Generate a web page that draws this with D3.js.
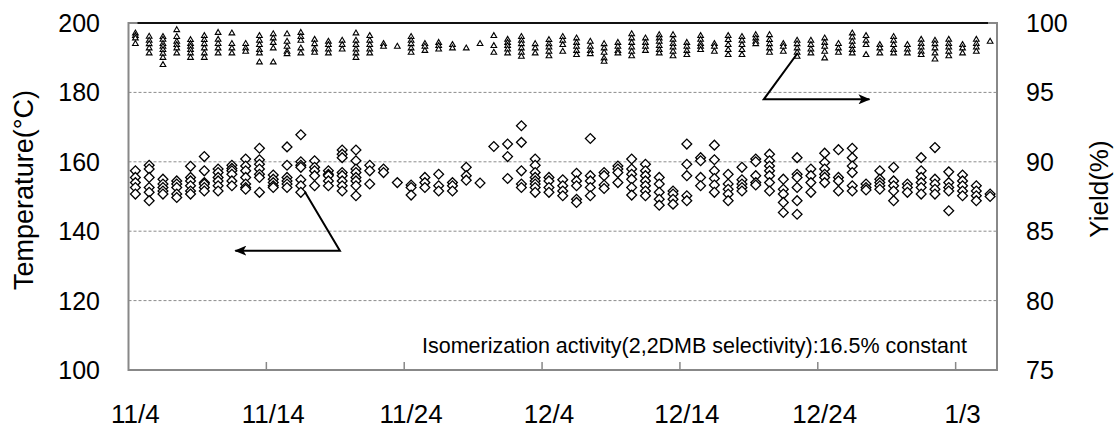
<!DOCTYPE html>
<html><head><meta charset="utf-8">
<script src="https://cdn.jsdelivr.net/npm/d3@7"></script>
<style>
html,body{margin:0;padding:0;background:#fff;}
svg{display:block;font-family:"Liberation Sans",Arial,sans-serif;}
</style></head>
<body>
<svg id="chart" width="1117" height="429"></svg>
<script>
// ---- data ----
const startDay = new Date(Date.UTC(2012, 10, 4));
const endDay = new Date(Date.UTC(2013, 0, 6));
const xTickLabels = ["11/4", "11/14", "11/24", "12/4", "12/14", "12/24", "1/3"];
const tempTicks = [100, 120, 140, 160, 180, 200];
const yieldTicks = [75, 80, 85, 90, 95, 100];
const leftTitle = "Temperature(\u00B0C)";
const rightTitle = "Yield(%)";
const noteText = "Isomerization activity(2,2DMB selectivity):16.5% constant";

// temperature (diamonds), one list per day
const temperature = [
[157.4,155.5,154.0,152.6,150.7],
[159.0,157.9,155.5,152.6,151.2,148.8],
[155.0,153.6,152.6,151.6,150.7],
[154.5,153.6,152.6,150.7,149.7],
[158.7,155.5,154.5,153.1,151.6,150.7],
[161.5,157.4,154.0,153.6,152.6,151.6],
[157.9,156.9,155.5,154.5,153.1,151.6],
[159.0,158.1,157.4,156.4,154.5,153.1],
[160.8,158.8,157.4,155.5,153.6,152.6,152.1],
[163.9,160.6,159.3,157.9,156.4,155.5,151.2],
[156.2,155.0,154.0,153.1,152.6],
[164.3,159.0,155.5,154.5,153.6,152.6],
[167.8,160.0,159.0,158.4,154.8,153.1,151.2],
[160.3,158.4,157.4,156.0,153.1],
[157.4,156.4,156.0,154.5,153.1],
[163.4,162.2,161.2,156.9,156.0,154.5,153.1,151.6],
[163.4,160.3,157.9,156.9,155.5,154.5,153.1,150.2],
[159.0,157.4,153.6],
[157.9,156.9],
[154.0],
[153.3,152.6,150.4],
[155.5,154.0,152.6],
[156.4,153.1,151.6],
[154.0,153.1,151.6],
[158.4,156.0,154.7],
[153.9],
[164.4],
[165.1,161.5,155.2],
[170.4,165.6,157.4,153.6,152.6],
[160.8,159.0,156.9,155.5,154.5,153.6,152.6,151.2],
[155.5,154.5,152.6,151.2],
[154.8,153.1,151.6,150.2],
[156.7,154.5,153.1,149.2,148.3],
[166.7,156.0,154.5,152.6,150.2],
[156.9,156.0,153.3,152.3],
[158.8,157.9,156.9,154.0],
[160.8,157.9,156.4,155.0,152.6,150.4],
[159.3,157.4,156.0,154.5,153.1,151.6,150.2],
[155.5,153.6,151.2,149.2,147.5],
[151.6,150.7,149.2,147.8],
[165.1,159.3,156.0,150.2,148.8],
[161.2,160.3,155.5,153.1],
[164.8,160.6,157.4,155.2,153.3,151.2],
[156.4,153.6,152.1,150.7,148.8],
[158.4,154.8,153.6,152.6,151.6],
[160.8,160.0,156.0,154.0,153.3],
[162.2,160.3,158.8,157.4,156.0,154.0,151.6],
[155.0,152.1,150.7,148.3,145.4],
[161.2,156.4,155.5,152.6,148.8,144.9],
[157.9,156.0,154.0,151.2],
[162.5,159.8,157.9,156.4,155.5,154.0],
[163.5,155.5,154.5,151.6],
[163.9,161.2,158.8,156.9,153.1,151.6],
[153.6,152.6,151.9],
[157.4,155.0,154.0,153.1,152.1],
[158.4,154.5,153.1,151.6,148.8],
[153.6,152.6,151.2],
[161.2,157.4,155.5,154.0,152.6,150.7],
[164.1,155.0,153.6,152.1,150.7],
[157.1,154.0,152.6,151.6,145.9],
[156.2,154.5,153.1,151.6,150.2],
[153.1,151.6,150.2,148.8],
[150.7,150.0]
];

// yield (triangles), one list per day
const yieldPct = [
[99.26,99.07,98.9,98.5],
[99.02,98.73,98.49,98.18,97.82],
[99.0,98.8,98.5,98.3,98.06,97.8,97.5,96.98],
[99.5,99.0,98.66,98.42,98.18,97.82],
[98.78,98.5,98.3,98.06,97.82,97.5],
[99.07,98.78,98.49,98.18,97.82,97.5],
[99.3,98.8,98.5,98.18,97.82],
[99.26,98.5,98.18,97.82],
[98.5,98.18,97.94],
[99.07,98.73,98.42,98.06,97.82,97.17],
[99.2,98.9,98.58,98.18,97.17],
[99.2,98.66,98.3,97.94,97.77],
[99.3,99.0,98.73,98.18,97.82],
[98.8,98.49,98.1,97.87],
[98.66,98.42,98.1,97.82],
[98.73,98.42,98.1],
[99.26,98.73,98.42,98.1,97.82,97.5],
[99.07,98.73,98.42,98.1,97.82],
[98.5,98.3],
[98.3],
[99.0,98.73,98.49,98.18,97.87],
[98.5,98.3,98.0],
[98.58,98.35,98.1],
[98.42,98.18],
[98.18],
[98.5],
[99.07,98.35,97.87],
[98.8,98.58,98.35,98.1,97.82],
[99.0,98.73,98.49,98.18,97.87,97.58],
[98.49,98.18,97.82],
[98.78,98.49,98.25,97.94,97.62],
[99.0,98.73,98.42,97.94],
[98.9,98.58,98.3,98.0,97.7],
[98.66,98.3,98.0,97.77],
[98.49,98.18,97.87,97.46,97.22],
[98.58,98.3,98.0,97.82],
[99.2,98.9,98.58,98.25,97.94,97.62],
[98.9,98.58,98.3,98.0],
[99.14,98.9,98.66,98.35,98.06,97.82],
[99.14,98.8,98.5,98.25,97.94,97.62],
[98.58,98.3,98.0,97.7],
[99.07,98.8,98.5,98.3,98.06],
[98.5,98.3,97.94],
[99.07,98.78,98.42,98.06,97.7],
[99.0,98.73,98.42,98.06,97.7],
[99.14,98.9,98.66,98.49],
[99.14,98.78,98.49,98.18,97.87],
[98.5,98.3,97.94],
[98.73,98.49,98.18,97.87,97.58],
[98.73,98.42,98.1,97.82],
[98.9,98.58,98.3,97.94,97.46],
[98.5,98.18,97.87],
[99.26,98.97,98.66,98.35,98.06,97.82],
[99.07,98.73,98.42,97.7],
[98.42,98.18,97.82],
[99.0,98.73,98.42,98.06,97.82],
[98.42,98.1,97.82],
[98.8,98.5,98.25,97.94,97.7],
[98.73,98.49,98.18,97.82,97.38],
[98.8,98.5,98.25,97.94,97.62],
[98.42,98.18,97.82],
[98.8,98.5,98.25,97.94],
[98.66]
];

// annotation arrows in data units: [day offset, value]
const tempArrow = [[12.8, 151.4], [15.36, 134.4], [7.75, 134.4]];
const yieldArrow = [[48.57, 97.84], [46.1, 94.5], [53.77, 94.5]];

// ---- drawing ----
const svg = d3.select("#chart");
const L = 128.5, R = 997, T = 23, B = 370;
const days = d3.utcDay.range(startDay, endDay);
const x = d3.scaleUtc().domain([startDay, endDay]).range([L, R]);
const yT = d3.scaleLinear().domain([100, 200]).range([B, T]);
const yY = d3.scaleLinear().domain([75, 100]).range([B, T]);
const mid = d => d3.utcHour.offset(d, 12);
const dayX = v => x(d3.utcHour.offset(startDay, v * 24));

// gridlines
svg.append("g").selectAll("line").data(tempTicks.filter(t => t > 100 && t < 200)).join("line")
  .attr("x1", L).attr("x2", R).attr("y1", d => yT(d)).attr("y2", d => yT(d))
  .attr("stroke", "#8c8c8c").attr("stroke-width", 1).attr("stroke-dasharray", "3,2");

// frame
svg.append("line").attr("x1", L + 8).attr("x2", R - 8).attr("y1", T).attr("y2", T)
  .attr("stroke", "#111").attr("stroke-width", 2);
svg.append("path").attr("d", `M${R - 9},${T}H${R}V${B}H${L}V${T}H${L + 9}`)
  .attr("fill", "none").attr("stroke", "#888").attr("stroke-width", 2);

// x ticks (inside)
const tickDays = days.filter((d, i) => i % 10 === 0);
svg.append("g").selectAll("line").data(tickDays.slice(1)).join("line")
  .attr("x1", d => x(d)).attr("x2", d => x(d)).attr("y1", B - 8).attr("y2", B)
  .attr("stroke", "#888").attr("stroke-width", 1.5);

// x labels (centered on the day)
svg.append("g").selectAll("text").data(tickDays).join("text")
  .attr("x", d => x(mid(d))).attr("y", 423).attr("text-anchor", "middle")
  .attr("font-size", 26).attr("fill", "#000")
  .text((d, i) => xTickLabels[i]);

// left y labels
svg.append("g").selectAll("text").data(tempTicks).join("text")
  .attr("x", 100).attr("y", d => yT(d)).attr("dy", "0.36em").attr("text-anchor", "end")
  .attr("font-size", 25).text(d => d);
// right y labels
svg.append("g").selectAll("text").data(yieldTicks).join("text")
  .attr("x", 1026).attr("y", d => yY(d)).attr("dy", "0.36em").attr("text-anchor", "start")
  .attr("font-size", 25).text(d => d);

// axis titles
svg.append("text").attr("transform", "translate(33,190) rotate(-90)")
  .attr("text-anchor", "middle").attr("font-size", 27).text(leftTitle);
svg.append("text").attr("transform", "translate(1108,189) rotate(-90)")
  .attr("text-anchor", "middle").attr("font-size", 26).text(rightTitle);

// note
svg.append("text").attr("x", 422).attr("y", 353).attr("font-size", 21.5).text(noteText);

// temperature diamonds
const tPts = [];
temperature.forEach((arr, i) => arr.forEach(v => tPts.push({d: days[i], v})));
const diamond = d3.symbol(d3.symbolSquare, 48)();
svg.append("g").selectAll("path").data(tPts).join("path")
  .attr("d", diamond)
  .attr("transform", p => `translate(${x(mid(p.d))},${yT(p.v)}) rotate(45)`)
  .attr("fill", "#fff").attr("stroke", "#000").attr("stroke-width", 1.3);

// yield triangles
const yPts = [];
yieldPct.forEach((arr, i) => arr.forEach(v => yPts.push({d: days[i], v})));
const tri = d3.symbol(d3.symbolTriangle, 14)();
svg.append("g").selectAll("path").data(yPts).join("path")
  .attr("d", tri)
  .attr("transform", p => `translate(${x(mid(p.d))},${yY(p.v)})`)
  .attr("fill", "#fff").attr("stroke", "#000").attr("stroke-width", 1.1);

// arrows
const defs = svg.append("defs");
defs.append("marker").attr("id", "ah").attr("viewBox", "0 0 12 10")
  .attr("refX", 11).attr("refY", 5).attr("markerWidth", 12).attr("markerHeight", 10)
  .attr("markerUnits", "userSpaceOnUse").attr("orient", "auto")
  .append("path").attr("d", "M0,0 L12,5 L0,10 L3,5 Z").attr("fill", "#000");
const lineT = d3.line().x(p => dayX(p[0])).y(p => yT(p[1]));
const lineY = d3.line().x(p => dayX(p[0])).y(p => yY(p[1]));
svg.append("path").attr("d", lineT(tempArrow)).attr("fill", "none")
  .attr("stroke", "#000").attr("stroke-width", 2).attr("marker-end", "url(#ah)");
svg.append("path").attr("d", lineY(yieldArrow)).attr("fill", "none")
  .attr("stroke", "#000").attr("stroke-width", 2).attr("marker-end", "url(#ah)");
</script>
</body></html>
